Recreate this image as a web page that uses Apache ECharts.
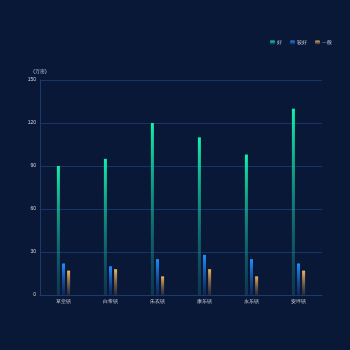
<!DOCTYPE html>
<html><head><meta charset="utf-8">
<script src="https://cdn.jsdelivr.net/npm/echarts@6/dist/echarts.min.js"></script>
<style>html,body{margin:0;padding:0;background:#0a1838;}#c{width:350px;height:350px;}</style>
</head><body><div id="c"></div>
<script>
const categories = ['草堂镇','白帝镇','朱衣镇','康乐镇','永乐镇','安坪镇'];
const seriesNames = ['好','较好','一般'];
const goodValues = [90, 95, 120, 110, 98, 130];
const fairValues = [22, 20, 25, 28, 25, 22];
const normalValues = [17, 18, 13, 18, 13, 17];
const yTicks = [0, 30, 60, 90, 120, 150];

const grad = (top, bottom) => new echarts.graphic.LinearGradient(0, 0, 0, 1, [
  { offset: 0, color: top }, { offset: 1, color: bottom }
]);
const chart = echarts.init(document.getElementById('c'));
chart.setOption({
  backgroundColor: '#0a1838',
  animation: false,
  legend: {
    right: 13, top: 35,
    itemWidth: 5, itemHeight: 4, itemGap: 8,
    icon: 'roundRect',
    textStyle: { color: '#d0d6e2', fontSize: 4.5, padding: [0, 0, 0, -3] },
    data: seriesNames
  },
  grid: { left: 40, right: 28, top: 80, bottom: 55 },
  xAxis: {
    type: 'category', data: categories,
    axisLine: { lineStyle: { color: '#1b3a6e' } },
    axisTick: { show: false },
    axisLabel: { color: '#d0d6e2', fontSize: 5, margin: 4 }
  },
  yAxis: {
    type: 'value', min: yTicks[0], max: yTicks[yTicks.length - 1], interval: 30,
    name: '(万亩)', nameGap: 6,
    nameTextStyle: { color: '#d0d6e2', fontSize: 5 },
    axisLine: { show: true, lineStyle: { color: '#1b3a6e' } },
    axisTick: { show: false },
    axisLabel: { color: '#d0d6e2', fontSize: 5, margin: 4 },
    splitLine: { lineStyle: { color: '#16356a' } }
  },
  series: [
    { name: seriesNames[0], type: 'bar', data: goodValues, barWidth: 3, barGap: '70%',
      itemStyle: { color: grad('#14f0a8', 'rgba(20,110,130,0.35)') } },
    { name: seriesNames[1], type: 'bar', data: fairValues, barWidth: 3, barGap: '70%',
      itemStyle: { color: grad('#1e8fff', 'rgba(30,100,200,0.2)') } },
    { name: seriesNames[2], type: 'bar', data: normalValues, barWidth: 3, barGap: '70%',
      itemStyle: { color: grad('#f2b85a', 'rgba(160,120,80,0.2)') } }
  ]
});
</script></body></html>
